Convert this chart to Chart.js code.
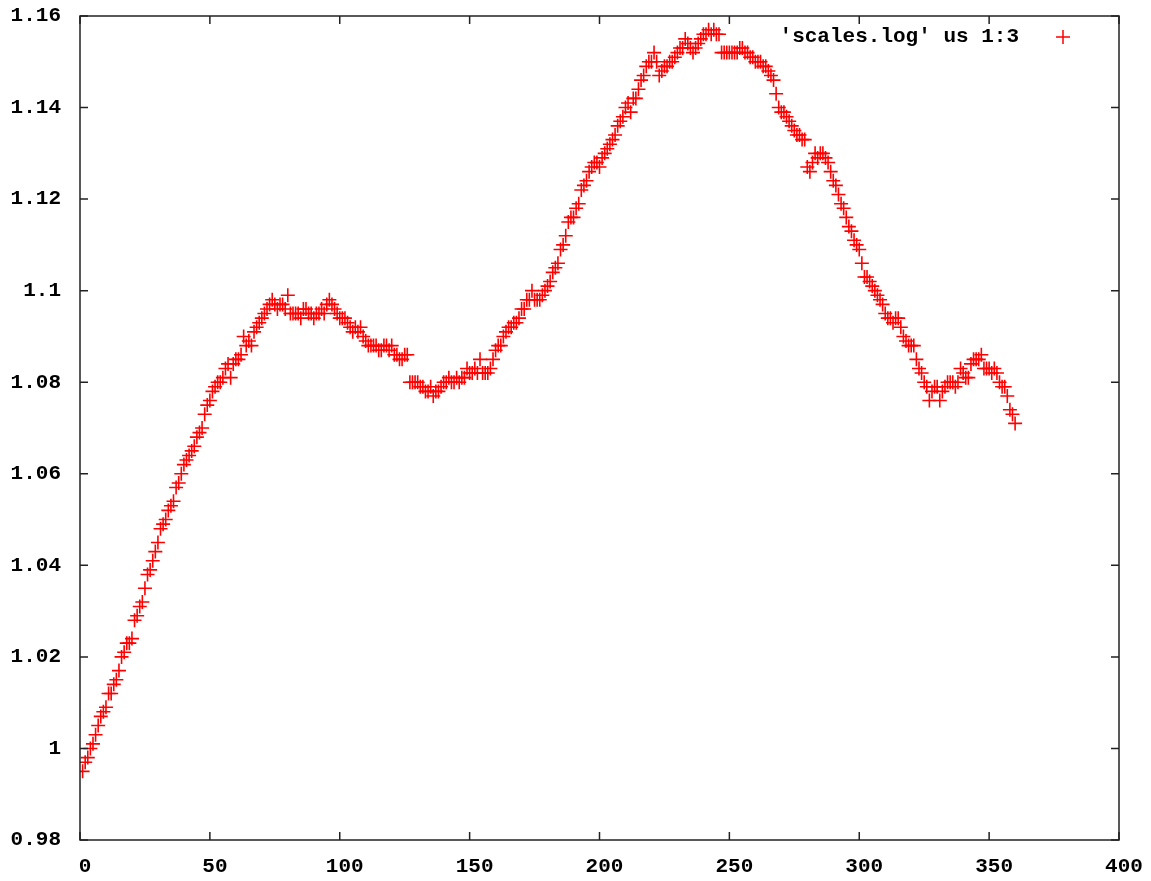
<!DOCTYPE html>
<html>
<head>
<meta charset="utf-8">
<script src="https://cdn.jsdelivr.net/npm/chart.js@4.4.0/dist/chart.umd.min.js"></script>
<style>
  html, body { margin: 0; padding: 0; background: #fff; }
  #chart { display: block; }
</style>
</head>
<body>
<canvas id="chart" width="1151" height="881"></canvas>
<script>
// column 3 of scales.log, one row per step (column 1 = 1..360)
const seriesLabel = "'scales.log' us 1:3";
const scaleValues = [
  0.995, 0.997, 0.998, 1.000, 1.001, 1.003, 1.005, 1.007, 1.008, 1.009,
  1.012, 1.012, 1.014, 1.015, 1.017, 1.020, 1.021, 1.023, 1.023, 1.024,
  1.028, 1.029, 1.031, 1.032, 1.035, 1.038, 1.039, 1.041, 1.043, 1.045,
  1.048, 1.049, 1.050, 1.052, 1.053, 1.054, 1.057, 1.058, 1.060, 1.062,
  1.063, 1.064, 1.065, 1.066, 1.068, 1.069, 1.070, 1.073, 1.075, 1.076,
  1.078, 1.079, 1.080, 1.080, 1.081, 1.083, 1.084, 1.081, 1.084, 1.085,
  1.085, 1.086, 1.090, 1.088, 1.089, 1.088, 1.091, 1.092, 1.093, 1.094,
  1.095, 1.096, 1.097, 1.098, 1.097, 1.096, 1.097, 1.097, 1.096, 1.099,
  1.095, 1.095, 1.095, 1.095, 1.094, 1.096, 1.096, 1.095, 1.095, 1.094,
  1.095, 1.095, 1.096, 1.095, 1.097, 1.098, 1.097, 1.096, 1.095, 1.094,
  1.094, 1.094, 1.093, 1.092, 1.091, 1.092, 1.091, 1.092, 1.090, 1.089,
  1.088, 1.088, 1.088, 1.088, 1.087, 1.087, 1.088, 1.088, 1.087, 1.088,
  1.086, 1.086, 1.085, 1.085, 1.086, 1.086, 1.080, 1.080, 1.080, 1.080,
  1.079, 1.079, 1.078, 1.078, 1.079, 1.077, 1.078, 1.078, 1.079, 1.080,
  1.080, 1.081, 1.080, 1.080, 1.081, 1.080, 1.081, 1.081, 1.083, 1.082,
  1.082, 1.083, 1.082, 1.085, 1.082, 1.082, 1.082, 1.083, 1.085, 1.087,
  1.088, 1.088, 1.090, 1.091, 1.092, 1.092, 1.093, 1.093, 1.094, 1.096,
  1.096, 1.098, 1.098, 1.100, 1.098, 1.098, 1.098, 1.099, 1.100, 1.101,
  1.102, 1.104, 1.105, 1.106, 1.109, 1.110, 1.112, 1.115, 1.116, 1.116,
  1.118, 1.119, 1.122, 1.123, 1.124, 1.126, 1.127, 1.128, 1.128, 1.127,
  1.129, 1.130, 1.131, 1.132, 1.133, 1.134, 1.136, 1.137, 1.138, 1.140,
  1.141, 1.139, 1.142, 1.142, 1.144, 1.146, 1.147, 1.149, 1.150, 1.150,
  1.152, 1.150, 1.147, 1.148, 1.149, 1.149, 1.150, 1.150, 1.151, 1.152,
  1.153, 1.153, 1.155, 1.154, 1.153, 1.152, 1.153, 1.154, 1.155, 1.156,
  1.156, 1.157, 1.156, 1.157, 1.156, 1.156, 1.152, 1.152, 1.152, 1.152,
  1.152, 1.152, 1.152, 1.153, 1.153, 1.152, 1.152, 1.151, 1.151, 1.150,
  1.150, 1.150, 1.149, 1.149, 1.148, 1.147, 1.146, 1.143, 1.140, 1.139,
  1.139, 1.138, 1.137, 1.136, 1.135, 1.134, 1.134, 1.133, 1.133, 1.127,
  1.126, 1.128, 1.130, 1.129, 1.130, 1.130, 1.129, 1.128, 1.126, 1.124,
  1.123, 1.121, 1.119, 1.118, 1.116, 1.114, 1.113, 1.111, 1.110, 1.109,
  1.106, 1.103, 1.103, 1.102, 1.101, 1.100, 1.099, 1.098, 1.097, 1.095,
  1.094, 1.094, 1.093, 1.094, 1.094, 1.092, 1.090, 1.089, 1.088, 1.088,
  1.088, 1.085, 1.083, 1.082, 1.080, 1.079, 1.076, 1.078, 1.079, 1.079,
  1.076, 1.078, 1.079, 1.080, 1.080, 1.080, 1.079, 1.080, 1.083, 1.082,
  1.081, 1.081, 1.084, 1.085, 1.085, 1.085, 1.086, 1.083, 1.083, 1.083,
  1.082, 1.083, 1.082, 1.080, 1.079, 1.079, 1.077, 1.074, 1.073, 1.071
];
const steps = scaleValues.map((_, i) => i + 1);

const xTicks = [0, 50, 100, 150, 200, 250, 300, 350, 400];
const yTicks = [0.98, 1.00, 1.02, 1.04, 1.06, 1.08, 1.10, 1.12, 1.14, 1.16];

const FONT = { family: '"Liberation Mono", "DejaVu Sans Mono", monospace', size: 21, weight: 'bold' };
const INK = '#222';

// gnuplot style frame: box around the plot, ticks pointing inward on all four sides, key top right
const gnuplotFrame = {
  id: 'gnuplotFrame',
  afterDraw(chart) {
    const { ctx, chartArea: a, scales } = chart;
    ctx.save();
    ctx.strokeStyle = INK;
    ctx.lineWidth = 1.5;
    ctx.strokeRect(a.left, a.top, a.right - a.left, a.bottom - a.top);
    const len = 8;
    ctx.beginPath();
    xTicks.forEach(v => {
      const px = scales.x.getPixelForValue(v);
      ctx.moveTo(px, a.bottom); ctx.lineTo(px, a.bottom - len);
      ctx.moveTo(px, a.top); ctx.lineTo(px, a.top + len);
    });
    yTicks.forEach(v => {
      const py = scales.y.getPixelForValue(v);
      ctx.moveTo(a.left, py); ctx.lineTo(a.left + len, py);
      ctx.moveTo(a.right, py); ctx.lineTo(a.right - len, py);
    });
    ctx.stroke();

    // key
    ctx.font = `${FONT.weight} ${FONT.size}px ${FONT.family}`;
    ctx.fillStyle = '#000';
    ctx.textAlign = 'right';
    ctx.textBaseline = 'middle';
    ctx.fillText(seriesLabel, a.right - 100, a.top + 21);
    const kx = a.right - 56, ky = a.top + 21;
    ctx.strokeStyle = '#ff0000';
    ctx.beginPath();
    ctx.moveTo(kx - 7, ky); ctx.lineTo(kx + 7, ky);
    ctx.moveTo(kx, ky - 7); ctx.lineTo(kx, ky + 7);
    ctx.stroke();
    ctx.restore();
  }
};

new Chart(document.getElementById('chart'), {
  type: 'scatter',
  data: {
    datasets: [{
      label: seriesLabel,
      data: steps.map((s, i) => ({ x: s, y: scaleValues[i] })),
      pointStyle: 'cross',
      pointRadius: 7,
      pointHoverRadius: 7,
      borderColor: '#ff0000',
      backgroundColor: '#ff0000',
      pointBorderWidth: 1.6
    }]
  },
  options: {
    responsive: false,
    animation: false,
    events: [],
    layout: { padding: { top: 16, right: 32, left: 0, bottom: 0 } },
    plugins: { legend: { display: false }, tooltip: { enabled: false } },
    scales: {
      x: {
        type: 'linear',
        min: 0, max: 400,
        afterFit(s) { s.height = 41; },
        afterBuildTicks(s) { s.ticks = xTicks.map(v => ({ value: v })); },
        grid: { display: false },
        border: { display: false },
        ticks: { font: FONT, color: '#000', padding: 6, labelOffset: 5, maxRotation: 0, autoSkip: false }
      },
      y: {
        type: 'linear',
        min: 0.98, max: 1.16,
        afterFit(s) { s.width = 80; s.paddingTop = 0; s.paddingBottom = 0; },
        afterBuildTicks(s) { s.ticks = yTicks.map(v => ({ value: v })); },
        grid: { display: false },
        border: { display: false },
        ticks: {
          font: FONT, color: '#000', padding: 11, autoSkip: false,
          callback: v => String(+v.toFixed(2))
        }
      }
    }
  },
  plugins: [gnuplotFrame]
});
</script>
</body>
</html>
